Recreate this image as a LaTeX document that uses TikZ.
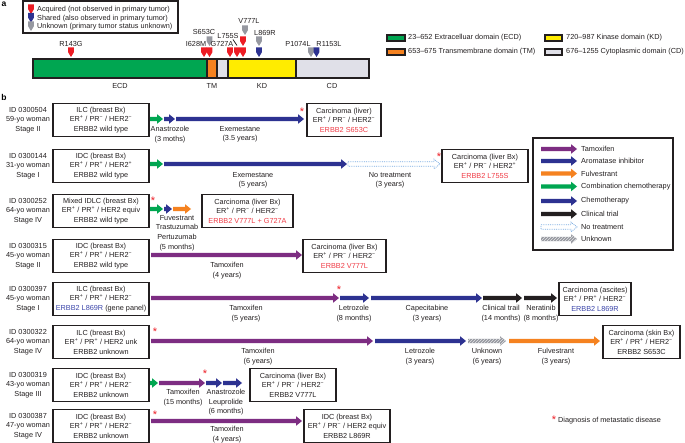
\documentclass[tikz,border=0pt]{standalone}
\usepackage{fontspec}
\setmainfont{Liberation Sans}
\usetikzlibrary{patterns}
\definecolor{cgreen}{RGB}{0,166,81}
\definecolor{corange}{RGB}{245,130,32}
\definecolor{cyellow}{RGB}{255,236,0}
\definecolor{cgrayd}{RGB}{224,224,232}
\definecolor{cpurple}{RGB}{125,45,130}
\definecolor{cblue}{RGB}{45,50,145}
\definecolor{cred}{RGB}{237,28,36}
\definecolor{cmutgray}{RGB}{150,152,160}
\definecolor{ctextred}{RGB}{240,60,70}
\definecolor{ctextblue}{RGB}{60,70,170}
\definecolor{cdot}{RGB}{120,170,225}
\definecolor{cblk}{RGB}{35,31,32}
\newcommand\myfs{\fontsize{7.3}{9.6}\selectfont}
\newcommand\supP{\textsuperscript{+}}
\newcommand\supM{\textsuperscript{−}}
\newcommand\blockarrow[4]{%
  \path[#1] (#2,#4-2.2) -- (#3-6,#4-2.2) -- (#3-6,#4-4.8) -- (#3,#4) -- (#3-6,#4+4.8) -- (#3-6,#4+2.2) -- (#2,#4+2.2) -- cycle;}
\newcommand\mutm[3]{%
  \fill[#3] (#1-2.9,#2-9.5) -- (#1+2.9,#2-9.5) -- (#1+2.9,#2-4.8) -- (#1,#2) -- (#1-2.9,#2-4.8) -- cycle;}
\tikzset{
  txt/.style={font=\myfs, text=cblk, inner sep=0pt, align=center},
  pbox/.style={draw=cblk, line width=1.5pt, minimum height=33, align=center, inner sep=0pt, font=\myfs, text=cblk},
  lbl/.style={font=\myfs, text=cblk, align=center, inner sep=0pt, anchor=north},
  lgt/.style={font=\myfs, text=cblk, inner sep=0pt, anchor=west},
  star/.style={text=cred, font=\fontsize{11}{11}\selectfont, inner sep=0pt},
  tam/.style={fill=cpurple},
  ai/.style={fill=cblue},
  ful/.style={fill=corange},
  comb/.style={fill=cgreen},
  chem/.style={fill=cblue},
  ctrial/.style={fill=cblk},
  notr/.style={draw=cdot, densely dotted, line width=0.8pt, fill=white},
  unk/.style={fill=cmutgray, postaction={pattern=north east lines, pattern color=white!75!cmutgray}},
}
\begin{document}
\begin{tikzpicture}[x=1pt,y=-1pt]
\useasboundingbox (0,0) rectangle (685,443);
\fill[white] (0,0) rectangle (685,443);
% ---------- part a ----------
\node[font=\fontsize{8.5}{9}\selectfont\bfseries, inner sep=0pt] (la) at (4,4) {a};
\draw[line width=1.5pt, cblk] (23,1) rectangle (178,33);
\mutm{31}{14}{cred}
\mutm{31}{22.5}{cblue}
\mutm{31}{31}{cmutgray}
\node[lgt] (l1) at (37,10) {Acquired (not observed in primary tumor)};
\node[lgt] (l2) at (37,18.5) {Shared (also observed in primary tumor)};
\node[lgt] (l3) at (37,27) {Unknown (primary tumor status unknown)};
% domain bar
\filldraw[fill=cgreen, draw=cblk, line width=1.2pt] (33,59) rectangle (207,78);
\filldraw[fill=corange, draw=cblk, line width=1.2pt] (207,59) rectangle (217,78);
\filldraw[fill=cgrayd, draw=cblk, line width=1.2pt] (217,59) rectangle (228,78);
\filldraw[fill=cyellow, draw=cblk, line width=1.2pt] (228,59) rectangle (296,78);
\filldraw[fill=cgrayd, draw=cblk, line width=1.2pt] (296,59) rectangle (369,78);
\draw[cblk, line width=1.6pt] (33,59) rectangle (369,78);
\node[txt] (dECD) at (120,86) {ECD};
\node[txt] (dTM) at (212,86) {TM};
\node[txt] (dKD) at (262,86) {KD};
\node[txt] (dCD) at (332,86) {CD};
% mutations
\mutm{71}{57}{cred}
\node[txt] (mR143G) at (71,44) {R143G};
\mutm{204}{57}{cred}
\node[txt] (mI628M) at (196,44) {I628M};
\mutm{209.5}{57}{cred}
\mutm{209.5}{46}{cmutgray}
\node[txt] (mS653C) at (204,32) {S653C};
\mutm{230}{57}{cred}
\node[txt] (mG727A) at (222,44) {G727A};
\mutm{237}{57}{cred}
\node[txt] (mL755S) at (228,36) {L755S};
\draw[cblk, line width=0.8pt] (233,39.5) -- (237,45.5);
\mutm{243}{57}{cred}
\mutm{243}{46}{cred}
\mutm{245}{35}{cmutgray}
\node[txt] (mV777L) at (249,21) {V777L};
\mutm{259}{57}{cblue}
\mutm{259}{46}{cmutgray}
\node[txt] (mL869R) at (265,33) {L869R};
\mutm{311}{57}{cmutgray}
\mutm{316.5}{57}{cblue}
\node[txt] (mP1074L) at (298,44) {P1074L};
\node[txt] (mR1153L) at (329,44) {R1153L};
% domain legend
\filldraw[fill=cgreen, draw=cblk, line width=1.2pt] (387,35) rectangle (405,41);
\node[lgt] (dl1) at (408,38) {23–652 Extracelluar domain (ECD)};
\filldraw[fill=corange, draw=cblk, line width=1.2pt] (387,49) rectangle (405,55);
\node[lgt] (dl2) at (408,52) {653–675 Transmembrane domain (TM)};
\filldraw[fill=cyellow, draw=cblk, line width=1.2pt] (545,35) rectangle (562,41);
\node[lgt] (dl3) at (566,38) {720–987 Kinase domain (KD)};
\filldraw[fill=cgrayd, draw=cblk, line width=1.2pt] (545,49) rectangle (562,55);
\node[lgt] (dl4) at (566,52) {676–1255 Cytoplasmic domain (CD)};
% ---------- part b ----------
\node[font=\fontsize{8.5}{9}\selectfont\bfseries, inner sep=0pt] (lb) at (4,97) {b};
% Row 1
\node[txt] (id1) at (28,120) {ID 0300504\\59-yo woman\\Stage II};
\node[pbox, minimum width=96] (p1) at (101,120) {ILC (breast Bx)\\ER\supP{} / PR\supM{} / HER2\supM\\ERBB2 wild type};
\blockarrow{comb}{150}{163}{119}
\blockarrow{ai}{164}{175}{119}
\blockarrow{ai}{176}{304}{119}
\node[lbl] (t11) at (170,126) {Anastrozole\\(3 moths)};
\node[lbl] (t12) at (240,126) {Exemestane\\(3.5 years)};
\node[star] (s1) at (302,112) {*};
\node[pbox, minimum width=74] (m1) at (344,120) {Carcinoma (liver)\\ER\supP{} / PR\supM{} / HER2\supM\\\textcolor{ctextred}{ERBB2 S653C}};
% Row 2
\node[txt] (id2) at (28,166) {ID 0300144\\31-yo woman\\Stage I};
\node[pbox, minimum width=96] (p2) at (101,166) {IDC (breast Bx)\\ER\supP{} / PR\supP{} / HER2\supP\\ERBB2 wild type};
\blockarrow{comb}{150}{163}{164}
\blockarrow{ai}{164}{347}{164}
\blockarrow{notr}{348}{440}{164}
\node[lbl] (t21) at (253,172) {Exemestane\\(5 years)};
\node[lbl] (t22) at (390,172) {No treatment\\(3 years)};
\node[star] (s2) at (439,157) {*};
\node[pbox, minimum width=86] (m2) at (485,166) {Carcinoma (liver Bx)\\ER\supP{} / PR\supM{} / HER2\supP\\\textcolor{ctextred}{ERBB2 L755S}};
% Row 3
\node[txt] (id3) at (28,211) {ID 0300252\\64-yo woman\\Stage IV};
\node[pbox, minimum width=96] (p3) at (101,211) {Mixed IDLC (breast Bx)\\ER\supP{} / PR\supP{} / HER2 equiv\\ERBB2 wild type};
\node[star] (s3) at (153,201) {*};
\blockarrow{comb}{150}{163}{209}
\blockarrow{ai}{164}{172}{209}
\blockarrow{ful}{173}{191}{209}
\node[lbl] (t31) at (177,215) {Fuvestrant\\Trastuzumab\\Pertuzumab\\(5 months)};
\node[pbox, minimum width=91] (m3) at (247.5,211) {Carcinoma (liver Bx)\\ER\supP{} / PR\supM{} / HER2\supM\\\textcolor{ctextred}{ERBB2 V777L + G727A}};
% Row 4
\node[txt] (id4) at (28,256) {ID 0300315\\45-yo woman\\Stage II};
\node[pbox, minimum width=96] (p4) at (101,256) {IDC (breast Bx)\\ER\supP{} / PR\supP{} / HER2\supM\\ERBB2 wild type};
\blockarrow{tam}{151}{302}{255}
\node[lbl] (t41) at (227,262) {Tamoxifen\\(4 years)};
\node[pbox, minimum width=83] (m4) at (344.5,256) {Carcinoma (liver Bx)\\ER\supP{} / PR\supM{} / HER2\supM\\\textcolor{ctextred}{ERBB2 V777L}};
% Row 5
\node[txt] (id5) at (28,299) {ID 0300397\\45-yo woman\\Stage I};
\node[pbox, minimum width=96] (p5) at (101,299) {ILC (breast Bx)\\ER\supP{} / PR\supP{} / HER2\supM\\\textcolor{ctextblue}{ERBB2 L869R} (gene panel)};
\blockarrow{tam}{151}{339}{298}
\node[star] (s5) at (339,290) {*};
\blockarrow{ai}{340}{369}{298}
\blockarrow{chem}{371}{482}{298}
\blockarrow{ctrial}{483}{522}{298}
\blockarrow{ctrial}{524}{557}{298}
\node[lbl] (t51) at (246,305) {Tamoxifen\\(5 years)};
\node[lbl] (t52) at (354,305) {Letrozole\\(8 months)};
\node[lbl] (t53) at (427,305) {Capecitabine\\(3 years)};
\node[lbl] (t54) at (501,305) {Clinical trail\\(14 months)};
\node[lbl] (t55) at (541,305) {Neratinib\\(8 months)};
\node[pbox, minimum width=72] (m5) at (595,299) {Carcinoma (ascites)\\ER\supP{} / PR\supP{} / HER2\supM\\\textcolor{ctextblue}{ERBB2 L869R}};
% Row 6
\node[txt] (id6) at (28,342) {ID 0300322\\64-yo woman\\Stage IV};
\node[pbox, minimum width=96] (p6) at (101,342) {ILC (breast Bx)\\ER\supP{} / PR\supP{} / HER2 unk\\ERBB2 unknown};
\node[star] (s6) at (155,332) {*};
\blockarrow{tam}{151}{373}{341}
\blockarrow{ai}{375}{466}{341}
\blockarrow{unk}{468}{506}{341}
\blockarrow{ful}{509}{600}{341}
\node[lbl] (t61) at (258,348) {Tamoxifen\\(6 years)};
\node[lbl] (t62) at (420,348) {Letrozole\\(3 years)};
\node[lbl] (t63) at (487,348) {Unknown\\(6 years)};
\node[lbl] (t64) at (556,348) {Fulvestrant\\(3 years)};
\node[pbox, minimum width=77] (m6) at (641.5,342) {Carcinoma (skin Bx)\\ER\supP{} / PR\supP{} / HER2\supM\\ERBB2 S653C};
% Row 7
\node[txt] (id7) at (28,385) {ID 0300319\\43-yo woman\\Stage III};
\node[pbox, minimum width=96] (p7) at (101,385) {IDC (breast Bx)\\ER\supP{} / PR\supP{} / HER2\supM\\ERBB2 unknown};
\blockarrow{comb}{150}{158}{383}
\blockarrow{tam}{159}{205}{383}
\node[star] (s7) at (205,374) {*};
\blockarrow{ai}{206}{222}{383}
\blockarrow{ai}{223}{242}{383}
\node[lbl] (t71) at (183,389) {Tamoxifen\\(15 months)};
\node[lbl] (t72) at (226,389) {Anastrozole\\Leuprolide\\(6 months)};
\node[pbox, minimum width=86] (m7) at (293,385) {Carcinoma (liver Bx)\\ER\supP{} / PR\supM{} / HER2\supM\\ERBB2 V777L};
% Row 8
\node[txt] (id8) at (28,426) {ID 0300387\\47-yo woman\\Stage IV};
\node[pbox, minimum width=96] (p8) at (101,426) {IDC (breast Bx)\\ER\supP{} / PR\supP{} / HER2\supM\\ERBB2 unknown};
\node[star] (s8) at (155,415) {*};
\blockarrow{tam}{151}{302}{421}
\node[lbl] (t81) at (227,426) {Tamoxifen\\(4 years)};
\node[pbox, minimum width=86] (m8) at (347,426) {IDC (breast Bx)\\ER\supP{} / PR\supM{} / HER2 equiv\\ERBB2 L869R};
% footnote
\node[star] (sf) at (554,420) {*};
\node[lgt] (ft) at (558,421) {Diagnosis of metastatic disease};
% treatment legend
\draw[cblk, line width=1.5pt] (533,138) rectangle (673,250);
\blockarrow{tam}{541}{577}{149}
\node[lgt] (g1) at (581,149) {Tamoxifen};
\blockarrow{ai}{541}{577}{161}
\node[lgt] (g2) at (581,161) {Aromatase inhibitor};
\blockarrow{ful}{541}{577}{173.5}
\node[lgt] (g3) at (581,173.5) {Fulvestrant};
\blockarrow{comb}{541}{577}{186.5}
\node[lgt] (g4) at (581,186.5) {Combination chemotherapy};
\blockarrow{chem}{541}{577}{201}
\node[lgt] (g5) at (581,201) {Chemotherapy};
\blockarrow{ctrial}{541}{577}{214}
\node[lgt] (g6) at (581,214) {Clinical trial};
\blockarrow{notr}{541}{577}{227}
\node[lgt] (g7) at (581,227) {No treatment};
\blockarrow{unk}{541}{577}{239}
\node[lgt] (g8) at (581,239) {Unknown};
\end{tikzpicture}
\end{document}
